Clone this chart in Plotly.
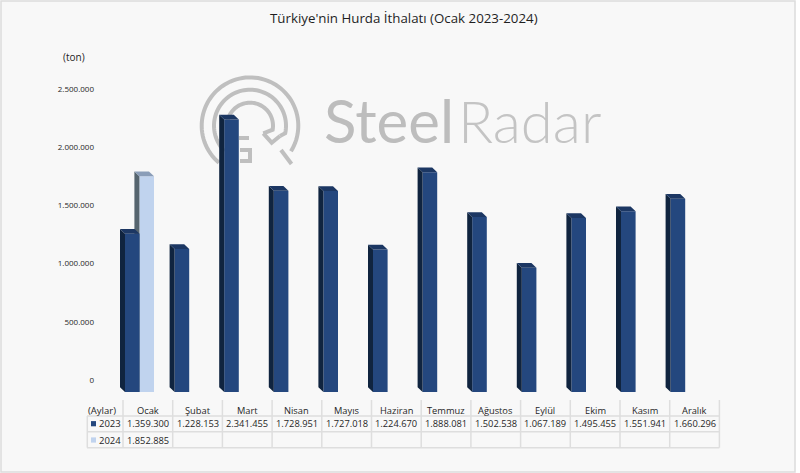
import math
import plotly.graph_objects as go

months = ["Ocak", "Şubat", "Mart", "Nisan", "Mayıs", "Haziran", "Temmuz", "Ağustos", "Eylül", "Ekim", "Kasım", "Aralık"]
y2023 = [1359300, 1228153, 2341455, 1728951, 1727018, 1224670, 1888081, 1502538, 1067189, 1495455, 1551941, 1660296]
y2024 = [1852885]
y_ticks = [0, 500000, 1000000, 1500000, 2000000, 2500000]
title = "Türkiye'nin Hurda İthalatı (Ocak 2023-2024)"

# plot area in page pixels
L, R, T, B = 95, 720, 60, 392
STEP = 49.6          # px per category
CAT0 = 147.5         # px of category 0
PXV = 0.0001164      # px per ton
BW = 14.6            # bar width px
DX, DY = 5.0, 4.8    # 3D depth px
COL0, COLW = 123.0, 49.7

def px(x): return (x - L) / (R - L)
def py(y): return (B - y) / (B - T)

def fmt(v):
    return f"{v:,}".replace(",", ".")

xr = [(L - CAT0) / STEP, (R - CAT0) / STEP]
yr = [0, (B - T) / PXV]
shift = 12 / PXV

def faces(vals, off):
    sx, sy, tx, ty = [], [], [], []
    d = DX / STEP
    h = DY / PXV
    w = BW / STEP
    for i, v in enumerate(vals):
        l = i + off
        r = l + w
        sx += [l, l, l - d, l - d, l, None]
        sy += [0, v, v + h, h, 0, None]
        tx += [l, r, r - d, l - d, l, None]
        ty += [v, v, v + h, v + h, v, None]
    return sx, sy, tx, ty

def add_series(fig, vals, off, front, side, top, yaxis):
    sx, sy, tx, ty = faces(vals, off)
    fig.add_trace(go.Bar(x=list(range(len(vals))), y=vals, width=BW / STEP, offset=off,
                         marker=dict(color=front, line=dict(width=0)), yaxis=yaxis, xaxis="x",
                         showlegend=False, hoverinfo="skip"))
    for xs, ys, c in ((sx, sy, side), (tx, ty, top)):
        fig.add_trace(go.Scatter(x=xs, y=ys, mode="lines", fill="toself", fillcolor=c,
                                 line=dict(width=0), yaxis=yaxis, xaxis="x",
                                 showlegend=False, hoverinfo="skip"))

fig = go.Figure()
off1 = -22.5 / STEP
off2 = off1 + 14.4 / STEP
add_series(fig, y2024, off2, "#c0d3ee", "#56656f", "#8a9db8", "y")
add_series(fig, y2023, off1, "#24477e", "#10243f", "#1c3763", "y3")
# invisible trace that carries the value axis labels
fig.add_trace(go.Scatter(x=[0], y=[0], mode="markers", marker=dict(opacity=0), yaxis="y2", xaxis="x",
                         showlegend=False, hoverinfo="skip"))

shapes = []
annots = []

def poly(points, color="#bfbfbf", width=4):
    d = "M" + " L".join(f"{px(x):.5f},{py(y):.5f}" for x, y in points)
    shapes.append(dict(type="path", path=d, xref="paper", yref="paper", layer="below",
                       line=dict(color=color, width=width)))

def arc(cx, cy, r, a0, a1, n=70):
    return [(cx + r * math.cos(math.radians(a0 + (a1 - a0) * k / n)),
             cy + r * math.sin(math.radians(a0 + (a1 - a0) * k / n))) for k in range(n + 1)]

# panel
shapes.append(dict(type="rect", xref="paper", yref="paper", layer="below",
                   x0=px(1), x1=px(795), y0=py(472), y1=py(1),
                   fillcolor="#f8f8f8", line=dict(color="#dcdcdc", width=1.5)))

# watermark logo
cx, cy = 250, 125.7
poly(arc(cx, cy, 48.3, 32, -230))
poly([(281, 150), (291.5, 164)])
poly([(280, 136)] + arc(cx, cy, 36, 12, -225)[0:] )
poly([(263.3, 133.3), (271.7, 142.7), (280, 136)])
poly([(263.3, 133.3)] + arc(cx, cy, 23, 10, -200))
poly([(239, 138), (249, 138)])
poly([(240, 150), (250, 150), (250, 161), (240, 161)])

def text(x, y, s, size, color="#333333", anchor="center", family="Open Sans", weight=None):
    f = dict(family=family, size=size, color=color)
    if weight:
        f["weight"] = weight
    annots.append(dict(x=px(x), y=py(y), xref="paper", yref="paper", text=s, showarrow=False,
                       xanchor=anchor, yanchor="middle", font=f, borderpad=0, borderwidth=0))

text(324, 120, "Steel", 60, "#bdbdbd", "left", "Lato", 400)
text(458, 120, "Radar", 58, "#c4c4c4", "left", "Lato", 300)

text(404, 18, title, 13.3, "#1f1f1f")
text(73.5, 57, "(ton)", 10, "#1f1f1f")

# data table
grid = "#dedede"
ink = "#262626"
for yy in (416, 431.7, 447.7):
    shapes.append(dict(type="line", xref="paper", yref="paper", layer="below",
                       x0=px(87), x1=px(719.4), y0=py(yy), y1=py(yy), line=dict(color=grid, width=1.5)))
shapes.append(dict(type="line", xref="paper", yref="paper", layer="below",
                   x0=px(87.3), x1=px(87.3), y0=py(416), y1=py(447.7), line=dict(color=grid, width=1.5)))
for k in range(len(months) + 1):
    xx = COL0 + COLW * k
    shapes.append(dict(type="line", xref="paper", yref="paper", layer="below",
                       x0=px(xx), x1=px(xx), y0=py(400), y1=py(447.7), line=dict(color=grid, width=1.5)))

text(88, 410, "(Aylar)", 9.5, ink, "left")
text(99, 423.7, "2023", 9.5, ink, "left")
text(99, 440, "2024", 9.5, ink, "left")
for yy, c in ((423.7, "#24477e"), (440, "#c0d3ee")):
    shapes.append(dict(type="rect", xref="paper", yref="paper", x0=px(91), x1=px(96),
                       y0=py(yy + 2.6), y1=py(yy - 2.6), fillcolor=c, line=dict(width=0)))
for k, m in enumerate(months):
    xc = COL0 + COLW * (k + 0.5)
    text(xc, 410, m, 9.3, ink)
    text(xc, 423.7, fmt(y2023[k]), 9.3, ink)
    if k < len(y2024):
        text(xc, 440, fmt(y2024[k]), 9.3, ink)

fig.update_layout(
    width=800, height=473,
    margin=dict(l=L, r=800 - R, t=T, b=473 - B, autoexpand=False),
    paper_bgcolor="#ffffff", plot_bgcolor="rgba(0,0,0,0)",
    separators=",.",
    barmode="overlay",
    shapes=shapes, annotations=annots,
    xaxis=dict(range=xr, visible=False, fixedrange=True),
    yaxis=dict(range=yr, visible=False, fixedrange=True),
    yaxis3=dict(range=yr, visible=False, overlaying="y", fixedrange=True),
    yaxis2=dict(range=[yr[0] - shift, yr[1] - shift], overlaying="y", side="left", anchor="x",
                tickmode="array", tickvals=y_ticks, tickformat=",d",
                tickfont=dict(family="Open Sans", size=8, color=ink),
                showgrid=False, zeroline=False, showline=False, ticks="", fixedrange=True),
    showlegend=False,
)
fig.write_html("out.html", config=dict(displayModeBar=False),
               post_script="document.body.style.margin='0';document.body.style.overflow='hidden';")
